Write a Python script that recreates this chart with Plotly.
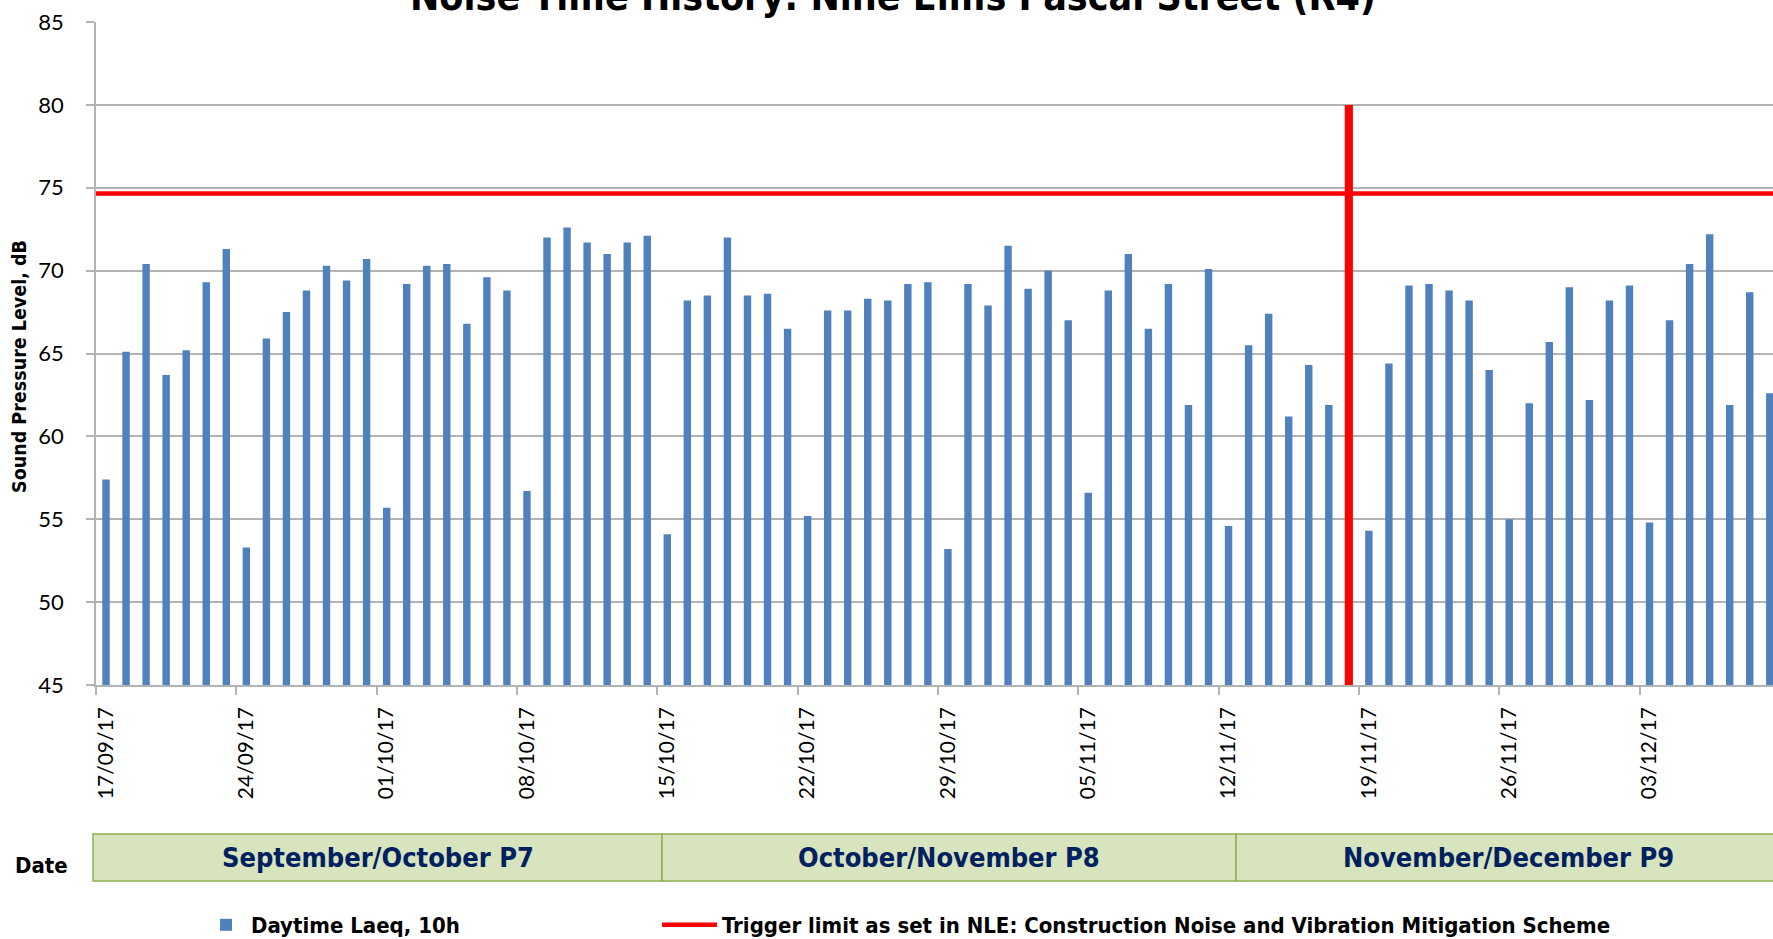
import pandas as pd
import plotly.graph_objects as go

# ---------------- data ----------------
start_date = "2017-09-17"
daytime_laeq = [
    57.4, 65.1, 70.4, 63.7, 65.2, 69.3, 71.3,   # 17/09 - 23/09
    53.3, 65.9, 67.5, 68.8, 70.3, 69.4, 70.7,   # 24/09 - 30/09
    55.7, 69.2, 70.3, 70.4, 66.8, 69.6, 68.8,   # 01/10 - 07/10
    56.7, 72.0, 72.6, 71.7, 71.0, 71.7, 72.1,   # 08/10 - 14/10
    54.1, 68.2, 68.5, 72.0, 68.5, 68.6, 66.5,   # 15/10 - 21/10
    55.2, 67.6, 67.6, 68.3, 68.2, 69.2, 69.3,   # 22/10 - 28/10
    53.2, 69.2, 67.9, 71.5, 68.9, 70.0, 67.0,   # 29/10 - 04/11
    56.6, 68.8, 71.0, 66.5, 69.2, 61.9, 70.1,   # 05/11 - 11/11
    54.6, 65.5, 67.4, 61.2, 64.3, 61.9, None,   # 12/11 - 18/11
    54.3, 64.4, 69.1, 69.2, 68.8, 68.2, 64.0,   # 19/11 - 25/11
    55.0, 62.0, 65.7, 69.0, 62.2, 68.2, 69.1,   # 26/11 - 02/12
    54.8, 67.0, 70.4, 72.2, 61.9, 68.7, 62.6,   # 03/12 - 09/12
]
dates = pd.date_range(start_date, periods=len(daytime_laeq), freq="D")

trigger_limit = 74.65
trigger_name = "Trigger limit as set in NLE: Construction Noise and Vibration Mitigation Scheme"
laeq_name = "Daytime Laeq, 10h"

event_dates = ["2017-11-18"]
event_levels = [80]

tick_dates = pd.date_range(start_date, "2017-12-03", freq="7D")
tick_labels = [d.strftime("%d/%m/%y") for d in tick_dates]

period_labels = ["September/October P7", "October/November P8", "November/December P9"]

title_text = "Noise Time History: Nine Elms Pascal Street (R4)"
y_title = "Sound Pressure Level, dB"

# ---------------- styling / layout constants ----------------
W, H = 1773, 939
ML, MR, MT, MB = 96, 0, 22, 254
PW, PH = W - ML - MR, H - MT - MB

def px_x(px):
    return (px - ML) / PW

def px_y(py):
    return (H - MB - py) / PH

BLUE = "#4F81BD"
RED = "#FF0000"
GRID = "#B3B3B3"
NARROW = "'Liberation Sans Narrow', 'Arial Narrow', 'DejaVu Sans Condensed', 'Liberation Sans', sans-serif"
TICKFONT = "Lato, 'Liberation Sans', sans-serif"

DAY = pd.Timedelta(days=1)
HALF = pd.Timedelta(hours=12)
bar_width_ms = 0.37 * 86400000

fig = go.Figure()

fig.add_trace(go.Bar(
    x=dates, y=daytime_laeq, name=laeq_name,
    marker=dict(color=BLUE, line=dict(width=0)),
    width=bar_width_ms, legend="legend",
))

fig.add_trace(go.Scatter(
    x=[dates[0] - HALF, dates[-1] + DAY], y=[trigger_limit, trigger_limit],
    mode="lines", name=trigger_name,
    line=dict(color=RED, width=4.5), legend="legend2",
))

fig.add_trace(go.Bar(
    x=pd.to_datetime(event_dates), y=event_levels, name="event",
    marker=dict(color=RED, line=dict(width=0)),
    width=bar_width_ms * 1.1, showlegend=False,
))

x_range = [dates[0] - HALF, dates[0] + pd.Timedelta(days=83.16)]

legend_font = dict(family=NARROW, size=22, color="black", weight="bold")

fig.update_layout(
    width=W, height=H, autosize=False,
    margin=dict(l=ML, r=MR, t=MT, b=MB, pad=0, autoexpand=False),
    paper_bgcolor="white", plot_bgcolor="white",
    barmode="overlay",
    font=dict(family=TICKFONT, color="black"),
    showlegend=True,
    legend=dict(
        orientation="h", x=px_x(201), xanchor="left", y=px_y(925), yanchor="middle",
        font=legend_font, bgcolor="rgba(0,0,0,0)", itemwidth=40,
    ),
    legend2=dict(
        orientation="h", x=px_x(657), xanchor="left", y=px_y(925), yanchor="middle",
        font=legend_font, bgcolor="rgba(0,0,0,0)", itemwidth=55,
    ),
    xaxis=dict(
        type="date", range=x_range,
        tickmode="array", tickvals=tick_dates, ticktext=tick_labels,
        tickangle=-90, ticks="", ticklabelstandoff=12,
        tickfont=dict(family=TICKFONT, size=21, color="black"),
        showgrid=False, showline=True, linecolor=GRID, linewidth=1.5,
        zeroline=False,
        minor=dict(tickmode="array", tickvals=[d - HALF for d in tick_dates],
                   ticks="outside", ticklen=8, tickcolor=GRID, tickwidth=1.5,
                   showgrid=False),
    ),
    yaxis=dict(
        range=[45, 85], tickmode="linear", tick0=45, dtick=5,
        ticks="outside", ticklen=8, tickcolor=GRID, tickwidth=1.5,
        ticklabelstandoff=18,
        tickfont=dict(family=TICKFONT, size=22, color="black"),
        showgrid=True, gridcolor=GRID, gridwidth=1.5,
        showline=True, linecolor=GRID, linewidth=1.5, zeroline=False,
    ),
)

annotations = [
    dict(text=f"<b>{title_text}</b>", x=px_x(893), y=1, xref="paper", yref="paper",
         xanchor="center", yanchor="bottom", yshift=1, showarrow=False,
         font=dict(family=NARROW, size=39, color="black")),
    dict(text=f"<b>{y_title}</b>", x=px_x(20), y=px_y(367), xref="paper", yref="paper",
         textangle=-90, xanchor="center", yanchor="middle", showarrow=False,
         font=dict(family=NARROW, size=19.5, color="black")),
    dict(text="<b>Date</b>", x=px_x(42), y=px_y(865), xref="paper", yref="paper",
         xanchor="center", yanchor="middle", showarrow=False,
         font=dict(family=NARROW, size=22, color="black")),
]

# period boxes (table beneath chart)
box_edges_px = [93, 662, 1236, 1780]
box_top, box_bot = 834, 881
shapes = []
for i, label in enumerate(period_labels):
    x0, x1 = box_edges_px[i], box_edges_px[i + 1]
    shapes.append(dict(type="rect", xref="paper", yref="paper",
                       x0=px_x(x0), x1=px_x(x1), y0=px_y(box_bot), y1=px_y(box_top),
                       fillcolor="#D7E4BD", line=dict(color="#8EB04F", width=1.5), layer="below"))
    annotations.append(dict(text=f"<b>{label}</b>", x=px_x((x0 + x1) / 2), y=px_y((box_top + box_bot) / 2),
                            xref="paper", yref="paper", xanchor="center", yanchor="middle",
                            showarrow=False, font=dict(family=NARROW, size=27, color="#002060")))

fig.update_layout(annotations=annotations, shapes=shapes)

fig.write_html(
    "out.html",
    config={"displayModeBar": False},
    post_script="document.body.style.margin='0';document.body.style.padding='0';"
                "document.documentElement.style.overflow='hidden';",
)
